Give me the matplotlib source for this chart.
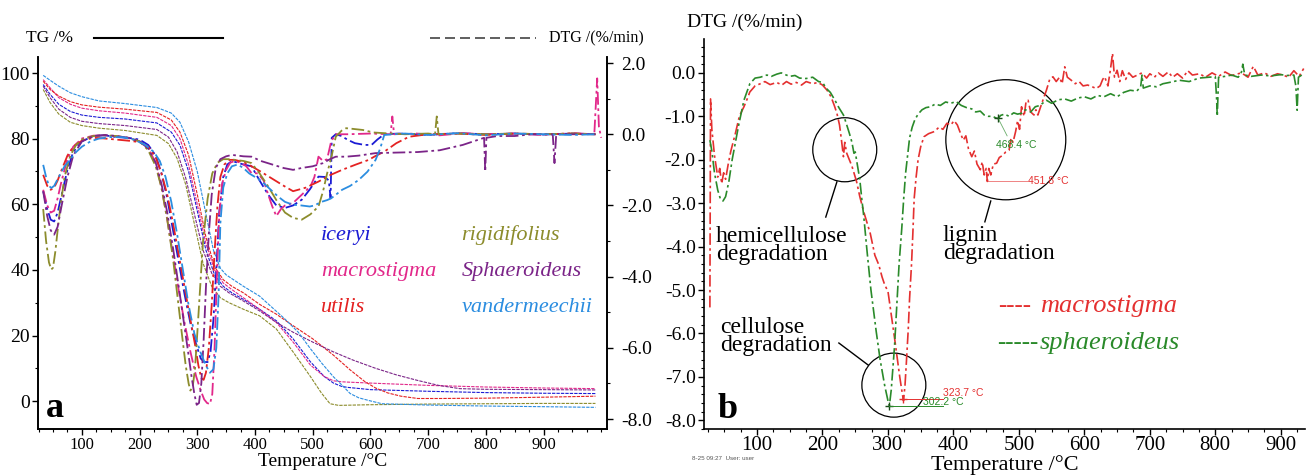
import matplotlib
matplotlib.use("Agg")
import matplotlib.pyplot as plt
from matplotlib.patches import Ellipse
from matplotlib.ticker import MultipleLocator, FormatStrFormatter
import numpy as np

plt.rcParams['font.family'] = ['Liberation Serif', 'DejaVu Serif']
plt.rcParams['axes.unicode_minus'] = False

# ---------------- Panel a data ----------------
species = ['iceryi', 'macrostigma', 'utilis', 'rigidifolius', 'Sphaeroideus', 'vandermeechii']
colors = {'iceryi': '#1c1cd4', 'macrostigma': '#e2288a', 'utilis': '#e42222',
          'rigidifolius': '#8c8c2c', 'Sphaeroideus': '#7b2488', 'vandermeechii': '#2b8de0'}

# TG curves (temperature, mass %)
tg_T_vand = [33, 45, 60, 80, 100, 130, 175, 230, 255, 270, 285, 300, 315, 328, 340, 350, 380, 408, 430, 452, 475, 496, 516, 536, 550, 565, 580, 597, 620, 700, 800, 900, 990]
tg_vand = [99.3, 97.8, 96, 94, 92.8, 91.5, 90.7, 89.5, 87.8, 85, 79, 70, 57, 46, 40.5, 38.5, 35, 32, 28.5, 25, 21, 16, 11.5, 7.4, 5, 2.3, 1.0, 0.2, -0.8, -1.2, -1.5, -1.7, -1.9]
tg_T_rigi = [33, 45, 60, 80, 100, 130, 175, 230, 250, 265, 280, 295, 310, 325, 340, 355, 380, 408, 437, 466, 496, 515, 530, 545, 600, 700, 800, 900, 990]
tg_rigi = [95, 91, 87.5, 85, 84, 83.2, 82.5, 81, 78.5, 74, 66, 54, 42, 35, 31.5, 30, 28, 26, 22, 15, 7.5, 2.5, -0.8, -1.3, -1.1, -0.9, -0.8, -0.7, -0.7]
tg_T_spha = [33, 45, 60, 80, 100, 130, 175, 230, 250, 265, 280, 295, 310, 325, 340, 355, 380, 408, 437, 466, 500, 536, 570, 609, 645, 682, 718, 755, 800, 900, 990]
tg_spha = [96, 92.5, 89, 86.5, 85.3, 84.6, 84, 82.8, 80.5, 76, 68, 57, 46, 39, 35, 33, 30.5, 27.5, 24, 21, 18, 15, 12.5, 10, 8, 6.3, 4.8, 3.8, 3.6, 3.5, 3.4]
tg_T_icer = [33, 45, 60, 80, 100, 130, 175, 230, 255, 270, 285, 300, 315, 330, 345, 360, 380, 408, 437, 466, 496, 520, 536, 550, 560, 600, 700, 800, 900, 990]
tg_icer = [96.5, 93.5, 90.5, 88.3, 87.2, 86.5, 86, 84.8, 82, 78, 70, 58, 46, 38.5, 35, 33, 31, 28, 24.5, 19, 12, 7.5, 5.5, 4.5, 4.2, 3.5, 3, 2.6, 2.4, 2.3]
tg_T_macr = [33, 45, 60, 80, 100, 130, 175, 230, 255, 270, 285, 300, 315, 330, 345, 360, 380, 408, 437, 466, 496, 520, 536, 550, 560, 600, 700, 800, 900, 990]
tg_macr = [98, 95.5, 92.5, 90.5, 89.3, 88.5, 87.8, 86.5, 84, 80, 72, 60, 48, 40, 36, 34, 31.5, 28, 24, 18, 11, 7.5, 6.2, 5.9, 5.8, 5.5, 4.8, 4.3, 4, 3.8]
tg_T_util = [33, 45, 60, 80, 100, 130, 175, 230, 255, 270, 285, 300, 315, 330, 345, 360, 380, 408, 437, 466, 500, 536, 565, 590, 609, 630, 653, 682, 720, 800, 900, 990]
tg_util = [97.5, 95, 93, 91.3, 90.3, 89.6, 89, 88, 85.7, 82, 75, 63, 50, 41, 37, 35, 33, 29.5, 26.5, 23, 19, 14, 9.5, 6, 4, 2.5, 1.5, 0.8, 0.8, 0.9, 1.2, 1.5]

# DTG curves (temperature, %/min)
dtg_T_vand = [33, 38, 43, 47, 52, 60, 70, 80, 90, 100, 115, 130, 150, 170, 190, 210, 225, 235, 245, 255, 265, 275, 285, 295, 305, 315, 322, 328, 333, 337, 340, 345, 352, 360, 370, 380, 390, 400, 410, 420, 430, 440, 452, 466, 480, 495, 503, 515, 525, 532, 540, 551, 565, 580, 595, 609, 617, 624, 640, 660, 700, 750, 800, 850, 900, 950, 990]
dtg_vand = [-0.86, -1.2, -1.45, -1.51, -1.45, -1.2, -0.9, -0.7, -0.5, -0.35, -0.2, -0.12, -0.08, -0.08, -0.15, -0.3, -0.5, -0.75, -1.2, -1.9, -2.8, -3.8, -4.8, -5.6, -6.1, -6.5, -6.7, -6.6, -6.0, -4.5, -2.5, -1.5, -1.1, -0.9, -0.85, -0.95, -1.1, -1.2, -1.3, -1.45, -1.6, -1.75, -1.9, -1.98, -2.0, -2.03, -2.0, -1.9, -1.85, -1.8, -1.7, -1.56, -1.45, -1.28, -1.05, -0.72, -0.4, -0.02, 0.0, 0.02, -0.02, 0.03, -0.03, 0.02, 0.0, -0.02, 0.0]
dtg_T_icer = [33, 40, 46, 52, 58, 65, 75, 85, 100, 120, 140, 160, 180, 200, 215, 228, 238, 248, 258, 268, 278, 288, 298, 306, 312, 318, 323, 328, 333, 338, 345, 352, 360, 370, 380, 394, 408, 423, 437, 452, 466, 481, 495, 510, 521, 528, 531, 533, 540, 550, 560, 573, 590, 602, 612, 624, 650, 700, 750, 800, 850, 900, 950, 990]
dtg_icer = [-1.6, -2.1, -2.4, -2.45, -2.2, -1.7, -1.0, -0.5, -0.2, -0.05, -0.03, -0.08, -0.1, -0.15, -0.3, -0.6, -1.1, -1.8, -2.7, -3.6, -4.5, -5.3, -5.9, -6.3, -6.4, -6.4, -6.1, -5.2, -3.8, -2.2, -1.2, -0.85, -0.75, -0.8, -0.85, -0.9, -1.3, -1.7, -2.0, -2.07, -2.0, -1.84, -1.55, -1.19, -1.2, -1.3, -1.8, -0.1, 0.0, -0.05, -0.15, -0.25, -0.3, -0.3, -0.15, 0.0, 0.02, -0.02, 0.03, 0.0, 0.02, -0.01, 0.02, 0.0]
dtg_T_macr = [33, 40, 46, 52, 58, 65, 75, 85, 100, 120, 140, 160, 180, 200, 215, 228, 238, 248, 258, 268, 278, 288, 298, 306, 312, 317, 322, 326, 330, 334, 338, 343, 350, 357, 365, 375, 385, 394, 405, 415, 423, 430, 437, 445, 452, 466, 481, 496, 503, 510, 518, 525, 532, 540, 560, 600, 635, 638, 641, 680, 720, 760, 800, 850, 900, 950, 988, 993, 996, 1000]
dtg_macr = [-1.56, -2.0, -2.2, -2.15, -1.8, -1.3, -0.7, -0.35, -0.12, -0.04, -0.03, -0.06, -0.1, -0.2, -0.4, -0.8, -1.5, -2.4, -3.4, -4.4, -5.3, -6.1, -6.8, -7.2, -7.45, -7.55, -7.58, -7.3, -6.0, -4.0, -2.3, -1.4, -1.0, -0.8, -0.75, -0.8, -0.9, -1.09, -1.1, -1.3, -1.7, -2.03, -2.3, -2.1, -2.0, -1.93, -1.7, -1.47, -1.2, -0.63, -0.75, -0.7, -0.2, 0.0, 0.0, 0.02, 0.0, 0.5, 0.0, 0.02, -0.03, 0.03, 0.0, 0.02, -0.02, 0.03, 0.0, 1.57, 0.2, -0.1]
dtg_T_util = [33, 40, 46, 52, 58, 65, 75, 85, 100, 120, 140, 160, 180, 200, 215, 228, 238, 248, 258, 268, 278, 288, 296, 302, 307, 311, 315, 320, 325, 330, 335, 340, 347, 355, 365, 380, 394, 410, 430, 450, 466, 488, 510, 530, 551, 575, 597, 610, 624, 645, 667, 700, 750, 800, 850, 900, 950, 990]
dtg_util = [-1.14, -1.45, -1.56, -1.5, -1.3, -1.0, -0.6, -0.35, -0.18, -0.1, -0.12, -0.15, -0.18, -0.22, -0.35, -0.65, -1.1, -1.7, -2.5, -3.4, -4.3, -5.2, -5.9, -6.5, -6.85, -6.9, -6.7, -6.0, -4.8, -3.3, -2.0, -1.2, -0.85, -0.72, -0.72, -0.78, -0.9, -1.05, -1.25, -1.45, -1.6, -1.5, -1.33, -1.15, -1.0, -0.85, -0.72, -0.6, -0.49, -0.25, -0.07, 0.0, 0.02, -0.02, 0.02, 0.0, 0.02, 0.0]
dtg_T_spha = [33, 40, 46, 52, 58, 65, 75, 85, 100, 120, 140, 160, 180, 200, 215, 228, 238, 248, 258, 268, 276, 284, 290, 295, 299, 303, 307, 311, 315, 320, 325, 332, 340, 350, 360, 370, 380, 394, 410, 430, 450, 466, 480, 500, 518, 530, 540, 558, 580, 609, 682, 720, 760, 797, 799, 801, 820, 850, 880, 916, 919, 922, 950, 990]
dtg_spha = [-1.6, -2.3, -2.7, -2.82, -2.6, -2.0, -1.2, -0.6, -0.2, -0.05, -0.02, -0.05, -0.1, -0.2, -0.4, -0.8, -1.4, -2.2, -3.2, -4.3, -5.2, -6.1, -6.8, -7.3, -7.6, -7.55, -7.0, -5.8, -4.3, -2.8, -1.7, -0.95, -0.7, -0.62, -0.58, -0.6, -0.62, -0.63, -0.75, -0.85, -0.95, -1.0, -0.95, -0.9, -0.81, -0.7, -0.63, -0.63, -0.6, -0.53, -0.5, -0.45, -0.3, -0.1, -1.05, -0.1, -0.05, -0.05, 0.0, 0.0, -0.81, 0.0, 0.0, 0.0]
dtg_T_rigi = [33, 38, 43, 47, 50, 54, 58, 63, 70, 80, 90, 100, 120, 140, 160, 180, 200, 215, 228, 238, 248, 258, 266, 274, 280, 285, 288, 292, 296, 300, 305, 310, 318, 326, 335, 345, 355, 365, 380, 394, 408, 423, 437, 452, 466, 481, 496, 510, 518, 525, 533, 540, 550, 558, 570, 587, 605, 624, 660, 700, 712, 715, 718, 750, 800, 850, 900, 950, 990]
dtg_rigi = [-2.1, -3.0, -3.6, -3.8, -3.75, -3.3, -2.7, -2.0, -1.2, -0.6, -0.3, -0.15, -0.05, -0.03, -0.05, -0.1, -0.2, -0.45, -0.9, -1.5, -2.4, -3.5, -4.6, -5.7, -6.5, -7.0, -7.2, -7.1, -6.6, -5.6, -4.3, -3.0, -1.8, -1.1, -0.8, -0.7, -0.7, -0.72, -0.75, -0.81, -1.1, -1.47, -1.85, -2.2, -2.35, -2.4, -2.25, -2.03, -1.6, -1.1, -0.6, -0.07, 0.1, 0.17, 0.15, 0.12, 0.05, 0.03, 0.0, 0.02, 0.0, 0.5, 0.0, 0.02, 0.0, 0.02, 0.0, 0.02, 0.0]

tg_data = {'iceryi': (tg_T_icer, tg_icer), 'macrostigma': (tg_T_macr, tg_macr),
           'utilis': (tg_T_util, tg_util), 'rigidifolius': (tg_T_rigi, tg_rigi),
           'Sphaeroideus': (tg_T_spha, tg_spha), 'vandermeechii': (tg_T_vand, tg_vand)}
dtg_data = {'iceryi': (dtg_T_icer, dtg_icer), 'macrostigma': (dtg_T_macr, dtg_macr),
            'utilis': (dtg_T_util, dtg_util), 'rigidifolius': (dtg_T_rigi, dtg_rigi),
            'Sphaeroideus': (dtg_T_spha, dtg_spha), 'vandermeechii': (dtg_T_vand, dtg_vand)}

# ---------------- Panel b data ----------------
b_T_macro = [28, 29, 31, 35, 40, 43, 46, 49, 52, 56, 60, 67, 73, 80, 85, 89, 97, 105, 112, 120, 130, 138, 145, 152, 160, 168, 175, 185, 193, 200, 207, 213, 218, 222, 226, 229, 232, 234, 237, 241, 245, 248, 252, 257, 263, 268, 273, 280, 286, 291, 295, 300, 305, 310, 314, 318, 321, 323.7, 326, 328, 331, 333, 336, 338, 340, 343, 346, 350, 355, 362, 371, 378, 384, 390, 396, 401, 406, 411, 415, 419, 423, 428, 432, 436, 441, 444, 447, 450, 451.8, 454, 457, 461, 466, 470, 475, 480, 485, 488, 491, 495, 498, 501, 504, 508, 511, 514, 518, 523, 526, 529, 535, 542, 547, 552, 557, 562, 566, 570, 574, 580, 586, 592, 598, 605, 612, 618, 624, 628, 631, 636, 640, 643, 646, 650, 654, 658, 663, 668, 674, 681, 688, 695, 700, 707, 713, 720, 728, 735, 742, 750, 758, 765, 776, 785, 795, 805, 815, 825, 840, 850, 858, 865, 875, 885, 895, 903, 912, 920, 928, 935]
b_macro = [-5.4, -0.6, -1.3, -1.9, -2.4, -2.2, -2.55, -2.3, -2.45, -2.1, -1.8, -1.39, -1.0, -0.78, -0.6, -0.44, -0.3, -0.25, -0.2, -0.27, -0.22, -0.28, -0.2, -0.26, -0.22, -0.28, -0.2, -0.25, -0.22, -0.28, -0.4, -0.55, -0.75, -0.93, -1.2, -1.55, -1.93, -1.6, -1.85, -2.0, -2.15, -2.3, -2.5, -2.85, -3.2, -3.45, -3.7, -4.2, -4.42, -4.7, -4.88, -5.03, -5.56, -6.1, -6.55, -7.0, -7.3, -7.55, -7.2, -6.7, -5.9, -5.2, -4.4, -3.7, -2.9, -2.4, -2.0, -1.7, -1.47, -1.4, -1.35, -1.25, -1.3, -1.16, -1.2, -1.1, -1.2, -1.4, -1.55, -1.45, -1.75, -1.93, -1.8, -2.1, -2.23, -2.05, -2.35, -2.2, -2.5, -2.2, -2.35, -2.1, -2.08, -1.95, -1.9, -1.82, -1.78, -1.5, -1.6, -1.35, -1.1, -1.3, -0.78, -1.0, -0.65, -0.63, -0.9, -0.97, -0.85, -0.97, -0.7, -0.4, -0.15, -0.09, -0.2, -0.1, -0.25, 0.14, -0.1, -0.17, -0.25, -0.2, -0.3, -0.28, -0.32, -0.36, -0.3, -0.15, -0.09, -0.3, 0.1, 0.45, -0.1, 0.06, -0.2, 0.05, -0.15, 0.0, -0.1, -0.05, 0.0, -0.12, -0.02, -0.1, 0.0, -0.08, 0.02, -0.1, -0.02, -0.12, 0.05, -0.05, -0.02, -0.1, 0.0, -0.08, 0.02, -0.06, 0.0, -0.1, 0.15, -0.05, 0.0, -0.08, -0.02, -0.05, -0.1, 0.05, -0.08, 0.1]
b_T_sphae = [28, 31, 35, 40, 44, 48, 52, 57, 62, 67, 72, 80, 89, 97, 105, 115, 122, 130, 137, 143, 150, 158, 165, 175, 185, 194, 200, 206, 212, 219, 225, 232, 236, 241, 245, 248, 250, 253, 257, 260, 263, 268, 274, 282, 288, 295, 300, 302.2, 305, 310, 314, 317, 321, 324, 327, 330, 333, 337, 341, 346, 352, 358, 365, 372, 380, 388, 396, 404, 412, 420, 428, 434, 441, 447, 453, 460, 465, 468.4, 472, 478, 485, 492, 498, 504, 510, 518, 525, 532, 542, 550, 560, 570, 580, 590, 600, 610, 620, 630, 640, 650, 660, 670, 680, 686, 688, 690, 700, 710, 720, 730, 745, 760, 775, 790, 800, 802, 803, 805, 815, 825, 835, 840, 842, 845, 855, 870, 885, 900, 910, 920, 923, 925, 927, 932]
b_sphae = [-1.55, -1.8, -2.3, -2.7, -2.9, -2.95, -2.85, -2.5, -2.0, -1.6, -1.2, -0.63, -0.25, -0.12, -0.1, -0.05, -0.08, -0.03, 0.0, -0.04, -0.08, -0.06, -0.12, -0.13, -0.1, -0.2, -0.22, -0.36, -0.45, -0.63, -0.8, -0.97, -1.15, -1.39, -1.6, -1.85, -1.82, -2.1, -2.46, -2.9, -3.3, -4.1, -5.0, -5.95, -6.6, -7.2, -7.55, -7.66, -7.3, -6.3, -5.2, -4.4, -3.6, -2.9, -2.3, -1.9, -1.5, -1.25, -1.08, -0.95, -0.85, -0.8, -0.78, -0.72, -0.75, -0.67, -0.7, -0.66, -0.75, -0.8, -0.83, -0.9, -0.88, -0.97, -1.0, -1.0, -1.04, -1.05, -0.98, -0.95, -1.0, -0.92, -0.95, -0.93, -0.85, -0.9, -0.78, -0.75, -0.63, -0.7, -0.62, -0.6, -0.65, -0.58, -0.55, -0.6, -0.52, -0.55, -0.48, -0.55, -0.45, -0.4, -0.42, -0.32, -0.05, -0.35, -0.3, -0.32, -0.25, -0.22, -0.17, -0.2, -0.12, -0.1, -0.09, -0.6, -1.0, -0.1, -0.08, -0.05, -0.1, 0.02, 0.2, -0.05, -0.08, -0.05, -0.07, -0.04, -0.06, -0.05, -0.3, -0.86, -0.1, -0.05]

# ---------------- Figure ----------------
W, H = 1311, 475
fig = plt.figure(figsize=(W / 100, H / 100), dpi=100)

def fx(px):
    return px / W

def fy(py):
    return 1 - py / H

dashdot = (0, (7, 2, 1.5, 2))
tgstyle = (0, (3, 1))

# Panel a
axa = fig.add_axes([fx(38), fy(429), fx(607) - fx(38), fy(57) - fy(429)])
axa2 = axa.twinx()
for sp in species:
    T, v = tg_data[sp]
    axa.plot(T, v, color=colors[sp], lw=0.8, ls=tgstyle)
    T, v = dtg_data[sp]
    axa2.plot(T, v, color=colors[sp], lw=1.3, ls=dashdot)

axa.set_xlim(24, 1010)
axa.set_ylim(-8.5, 104.9)
axa2.set_ylim(-8.28, 2.17)
for ax in (axa, axa2):
    ax.spines['top'].set_visible(False)
    for s in ('left', 'right', 'bottom'):
        ax.spines[s].set_linewidth(1.2)
axa.xaxis.set_major_locator(MultipleLocator(100))
axa.xaxis.set_minor_locator(MultipleLocator(25))
axa.yaxis.set_major_locator(MultipleLocator(20))
axa.yaxis.set_minor_locator(MultipleLocator(10))
axa2.yaxis.set_major_locator(MultipleLocator(2))
axa2.yaxis.set_minor_locator(MultipleLocator(1))
axa2.yaxis.set_major_formatter(FormatStrFormatter('%.1f'))
axa.set_xticks([100, 200, 300, 400, 500, 600, 700, 800, 900])
axa.tick_params(axis='x', labelsize=12, length=4, width=1, pad=2)
axa.tick_params(axis='x', which='minor', length=2.5, width=0.8)
axa.tick_params(axis='y', labelsize=14, length=4, width=1, pad=2)
axa.tick_params(axis='y', which='minor', length=2.5, width=0.8)
axa2.tick_params(axis='y', labelsize=14, length=4, width=1, pad=6)
axa2.tick_params(axis='y', which='minor', length=2.5, width=0.8)
axa.set_xlabel('Temperature /°C', fontsize=14, labelpad=0)

legend_pos = {'iceryi': (514, 50.5), 'macrostigma': (514, 39.5), 'utilis': (514, 28.5),
              'rigidifolius': (758, 50.5), 'Sphaeroideus': (758, 39.5), 'vandermeechii': (758, 28.5)}
for sp in species:
    x, y = legend_pos[sp]
    axa.text(x, y, sp, color=colors[sp], fontsize=16, style='italic', va='center', ha='left')
axa.text(38, -2.3, 'a', fontsize=26, fontweight='bold', va='center', ha='left')

fig.text(fx(26), fy(38), 'TG /%', fontsize=12.5, va='center', ha='left')
fig.add_artist(plt.Line2D([fx(94), fx(223)], [fy(38), fy(38)], color='black', lw=1.5))
fig.add_artist(plt.Line2D([fx(430), fx(536)], [fy(38), fy(38)], color='#444444', lw=1.2,
                          ls=(0, (6, 3))))
fig.text(fx(549), fy(38), 'DTG /(%/min)', fontsize=11.5, va='center', ha='left')

# Panel b
axb = fig.add_axes([fx(704), fy(429), fx(1305) - fx(704), fy(39) - fy(429)])
red_b = '#e43030'
green_b = '#2a8a2a'
axb.plot(b_T_macro, b_macro, color=red_b, lw=1.2, ls=dashdot)
axb.plot(b_T_sphae, b_sphae, color=green_b, lw=1.2, ls=dashdot)
axb.set_xlim(19, 937)
axb.set_ylim(-8.2, 0.78)
axb.spines['top'].set_visible(False)
axb.spines['right'].set_visible(False)
for s in ('left', 'bottom'):
    axb.spines[s].set_linewidth(1.2)
axb.set_xticks([100, 200, 300, 400, 500, 600, 700, 800, 900])
axb.xaxis.set_minor_locator(MultipleLocator(25))
axb.yaxis.set_major_locator(MultipleLocator(1))
axb.yaxis.set_minor_locator(MultipleLocator(0.2))
axb.yaxis.set_major_formatter(FormatStrFormatter('%.1f'))
axb.tick_params(axis='x', labelsize=15, length=4, width=1, pad=1)
axb.tick_params(axis='x', which='minor', length=2.5, width=0.8)
axb.tick_params(axis='y', labelsize=14, length=4, width=1, pad=2)
axb.tick_params(axis='y', which='minor', length=2.5, width=0.8)
axb.set_xlabel('Temperature /°C', fontsize=16, labelpad=0)
fig.text(fx(687), fy(22), 'DTG /(%/min)', fontsize=14, va='center', ha='left')

# circles and leader lines
sx = 0.655  # px per degC
sy = 43.4   # px per unit
circles = [(234, -1.77, 32), (480, -1.54, 60), (309, -7.19, 32)]
for cx, cy, r in circles:
    axb.add_patch(Ellipse((cx, cy), 2 * r / sx, 2 * r / sy, fill=False, ec='black', lw=0.9))
leaders = [((222, -2.51), (205, -3.32)), ((457, -2.95), (448, -3.43)), ((225, -6.22), (270, -6.73))]
for (x0, y0), (x1, y1) in leaders:
    axb.plot([x0, x1], [y0, y1], color='black', lw=1.0)

ann_fs = 17
axb.text(37, -3.97, 'hemicellulose\ndegradation', fontsize=ann_fs, va='center', ha='left',
         linespacing=0.78)
axb.text(384, -3.95, 'lignin\ndegradation', fontsize=ann_fs, va='center', ha='left',
         linespacing=0.78)
axb.text(43, -6.07, 'cellulose\ndegradation', fontsize=ann_fs, va='center', ha='left',
         linespacing=0.78)

# peak markers
axb.plot([302.2], [-7.66], marker='+', color='#1a4a1a', ms=6, mew=1)
axb.plot([323.7], [-7.52], marker='+', color=red_b, ms=6, mew=1)
axb.plot([468.4], [-1.05], marker='+', color='#1a4a1a', ms=6, mew=1)
axb.plot([302.2, 384], [-7.66, -7.66], color=green_b, lw=0.7)
axb.plot([323.7, 384], [-7.52, -7.52], color=red_b, lw=0.7)
axb.plot([452, 512], [-2.49, -2.49], color=red_b, lw=0.7, alpha=0.6)
axb.plot([468.4, 482], [-1.05, -1.45], color=green_b, lw=0.6, alpha=0.7)
sans = ['Liberation Sans', 'DejaVu Sans']
axb.text(384, -7.37, '323.7 °C', fontsize=7.5, color=red_b, family=sans, va='center', ha='left')
axb.text(353, -7.57, '302.2 °C', fontsize=7.5, color=green_b, family=sans, va='center', ha='left')
axb.text(465, -1.66, '468.4 °C', fontsize=7.5, color=green_b, family=sans, va='center', ha='left')
axb.text(514, -2.5, '451.8 °C', fontsize=7.5, color=red_b, family=sans, va='center', ha='left')

# legend of panel b
axb.text(469, -5.37, '----', fontsize=18, color=red_b, va='center', ha='left')
axb.text(532, -5.37, 'macrostigma', fontsize=19, color=red_b, style='italic', va='center', ha='left')
axb.text(466, -6.22, '-----', fontsize=18, color=green_b, va='center', ha='left')
axb.text(532, -6.22, 'sphaeroideus', fontsize=19, color=green_b, style='italic', va='center', ha='left')
axb.text(40, -7.76, 'b', fontsize=26, fontweight='bold', va='center', ha='left')

fig.text(fx(692), fy(459), '8-25 09:27  User: user', fontsize=4.5, color='#555555',
         family=sans, va='center', ha='left')

fig.savefig('out.png', dpi=100)
